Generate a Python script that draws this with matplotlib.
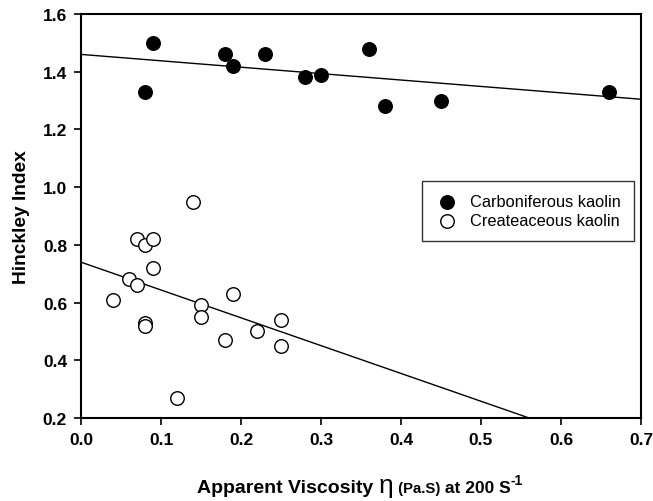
import matplotlib
matplotlib.use("Agg")
import matplotlib.pyplot as plt
import numpy as np

plt.rcParams['font.family'] = ['Liberation Sans', 'DejaVu Sans']

# Data
carb_x = [0.09, 0.08, 0.18, 0.19, 0.23, 0.28, 0.30, 0.36, 0.38, 0.45, 0.66]
carb_y = [1.50, 1.33, 1.46, 1.42, 1.46, 1.38, 1.39, 1.48, 1.28, 1.30, 1.33]
cret_x = [0.14, 0.07, 0.08, 0.09, 0.09, 0.06, 0.07, 0.04, 0.08, 0.08,
          0.15, 0.15, 0.19, 0.18, 0.22, 0.25, 0.25, 0.12]
cret_y = [0.95, 0.82, 0.80, 0.82, 0.72, 0.68, 0.66, 0.61, 0.53, 0.52,
          0.59, 0.55, 0.63, 0.47, 0.50, 0.54, 0.45, 0.27]
# regression lines (intercept, slope)
carb_fit = (1.46, -0.222)
cret_fit = (0.74, -0.964)
xticks = [0.0, 0.1, 0.2, 0.3, 0.4, 0.5, 0.6, 0.7]
yticks = [0.2, 0.4, 0.6, 0.8, 1.0, 1.2, 1.4, 1.6]

fig = plt.figure(figsize=(6.53, 5.02), dpi=100)
ax = fig.add_axes([81/653, 1-419/502, (641-81)/653, (419-15)/502])

xl = np.array([0.0, 0.7])
ax.plot(xl, carb_fit[0] + carb_fit[1]*xl, color='black', lw=1.0, zorder=2)
xl2 = np.array([0.0, (0.2 - cret_fit[0]) / cret_fit[1]])
ax.plot(xl2, cret_fit[0] + cret_fit[1]*xl2, color='black', lw=1.0, zorder=2)

ax.scatter(carb_x, carb_y, s=95, color='black', edgecolors='black', zorder=3,
           label='Carboniferous kaolin')
ax.scatter(cret_x, cret_y, s=95, facecolors='white', edgecolors='black',
           linewidths=1.0, zorder=3, label='Createaceous kaolin')

ax.set_xlim(0, 0.7)
ax.set_ylim(0.2, 1.6)
ax.set_xticks(xticks)
ax.set_yticks(yticks)
ax.set_xticklabels([f'{v:.1f}' for v in xticks], fontweight='bold', fontsize=12.5)
ax.set_yticklabels([f'{v:.1f}' for v in yticks], fontweight='bold', fontsize=12.5)
ax.tick_params(direction='out', length=5, width=1.2, pad=5)
for s in ax.spines.values():
    s.set_linewidth(1.5)

ax.set_ylabel('Hinckley Index', fontweight='bold', fontsize=13.8, labelpad=9)

leg = ax.legend(loc='upper left', bbox_to_anchor=((422-81)/560, 1-(182-15)/404),
                frameon=True, fancybox=False, edgecolor='black', fontsize=11.8,
                handletextpad=0.6, borderpad=0.8, labelspacing=0.25,
                handlelength=1.5, borderaxespad=0)
leg.get_frame().set_linewidth(1.0)

# x label built from pieces
fig.canvas.draw()
r = fig.canvas.get_renderer()
pieces = [('Apparent Viscosity ', 14, 'bold', 0),
          ('\u03b7', 19, 'normal', 0),
          (' (Pa.S)', 10.7, 'bold', 0),
          (' at 200 S', 12.5, 'bold', 0),
          ('-1', 10, 'bold', 8)]
texts = []
widths = []
for s, fs, fw, dy in pieces:
    t = fig.text(0, 0, s, fontsize=fs, fontweight=fw, transform=None,
                 ha='left', va='baseline')
    texts.append(t)
    widths.append(t.get_window_extent(renderer=r).width)
total = sum(widths)
x0 = 360 - total/2
base = 502 - 493
xc = x0
for t, w, p in zip(texts, widths, pieces):
    t.set_position((xc, base + p[3]))
    xc += w

fig.savefig('out.png', dpi=100)
